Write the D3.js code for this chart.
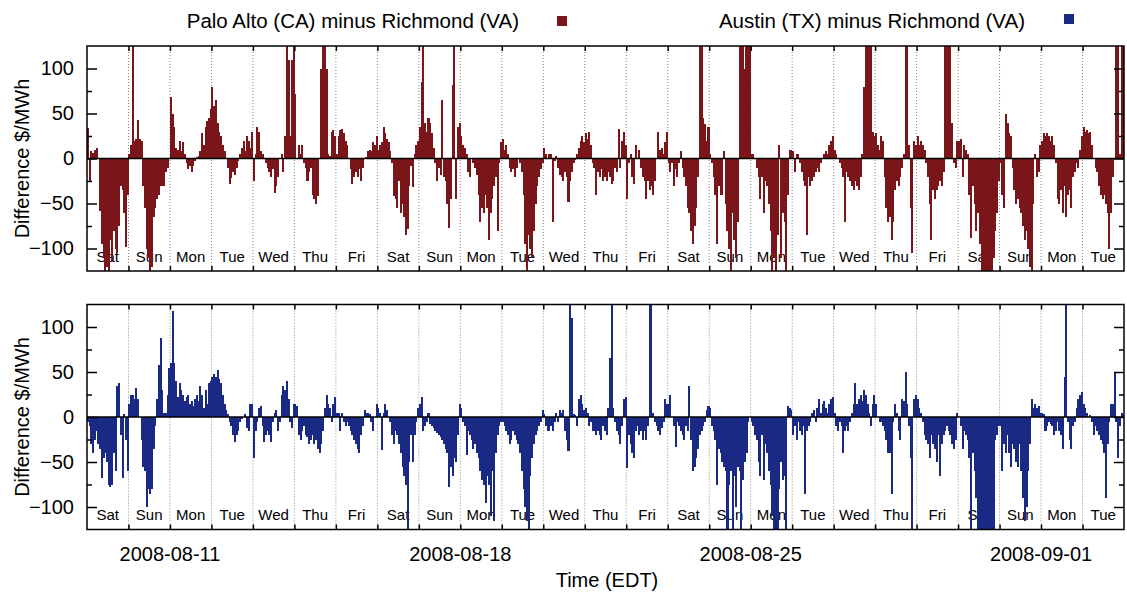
<!DOCTYPE html>
<html>
<head>
<meta charset="utf-8">
<script src="https://cdn.jsdelivr.net/npm/d3@7"></script>
<style>
  body { margin: 0; background: #fff; }
  text { font-family: "Liberation Sans", Arial, Helvetica, sans-serif; fill: #000; }
</style>
</head>
<body>
<svg id="chart" width="1127" height="592"></svg>
<script>
// Hourly locational price differences, $/MWh, one row of 24 hours per day (EDT),
// starting Saturday 2008-08-09 and ending Tuesday 2008-09-02.
const firstDay = "2008-08-09";
const lastDayExclusive = "2008-09-03";
const dateTicks = ["2008-08-11", "2008-08-18", "2008-08-25", "2008-09-01"];
const yTicks = [-100, -50, 0, 50, 100];
const yMinorTicks = [-75, -25, 25, 75];
const seriesNames = ["Palo Alto (CA) minus Richmond (VA)", "Austin (TX) minus Richmond (VA)"];

const paloAltoMinusRichmond = [
  [34, -25, 8, 6, 10, 12, 0, -58, -95, -110, -125, -120, -125, -90, -115, -80, -100, -105, -75, -30, -35, -60, -98, -40],
  [5, 15, 125, 20, 22, 43, 22, 20, -30, -55, -100, -110, -125, -120, -65, -55, -45, -40, -30, -30, -30, -15, -10, 0],
  [68, 50, 35, 12, 10, 20, 8, 18, 5, -5, -12, -8, -15, -8, -3, 2, 3, 8, 28, 15, 35, 42, 45, 55],
  [80, 58, 65, 40, 30, 25, 15, 8, 0, -10, -28, -22, -15, -18, -10, -3, 5, 12, 20, 8, 25, 20, 12, 30],
  [-25, 5, 35, 30, 8, 5, 0, -5, -10, -15, -20, -12, -38, -30, -20, 0, 5, -15, 25, 125, 110, 25, 110, 125],
  [72, 0, 15, 5, 15, -5, -10, -25, -15, -10, -40, -45, -50, -42, 0, 100, 125, 125, 100, 5, 3, 30, 32, 25],
  [5, 25, 32, 33, 28, 20, 15, 0, -12, -28, -20, -15, -20, -12, -25, -10, 0, 2, 8, 10, 8, 18, 15, 25],
  [10, 15, 18, 35, 28, 22, 18, 8, -5, -42, -45, -55, -25, -60, -50, -65, -85, -78, -30, -8, -32, 5, 15, 20],
  [35, 85, 125, 40, 30, 45, 40, 28, 12, -5, -25, -10, -18, 65, -20, -25, -50, -77, -45, 82, 125, -45, 35, 40],
  [25, 15, 12, 5, -15, -20, 0, -5, -10, -18, -40, -70, -55, -60, -40, -55, -90, -60, -45, -30, -20, -80, -5, 18],
  [22, 10, 15, 5, -10, -15, -12, -20, -10, 0, -5, -15, -40, -95, -125, -85, -100, -110, -80, -50, -30, -20, -12, -5],
  [12, 5, 0, 5, 5, -70, -3, 3, -10, -18, -20, -25, -15, -20, -48, -25, -15, -5, -2, 5, 12, 20, 25, 18],
  [28, 22, 30, 15, -5, -10, -40, -15, -20, -12, -25, -20, -25, -15, -20, -28, -25, -10, -15, 33, -10, 20, 30, 15],
  [-45, -5, 5, -20, -28, 15, 0, 10, -10, -20, -25, -45, -25, -35, -30, -40, -25, 0, 30, 10, 12, 5, 18, 30],
  [-5, -15, -5, -30, -12, -20, -5, 8, -10, -20, -30, -55, -60, -80, -95, -75, -55, -20, 125, 125, 45, 38, 20, 35],
  [5, -5, -20, -40, -95, -30, -40, -40, 8, -50, -80, -100, -125, -60, -90, -110, -70, 125, 125, 125, 100, 125, 125, 125],
  [5, 5, 0, -10, -20, -45, -20, -60, -25, -30, -50, -80, -125, -110, -125, -85, 15, -110, -60, -70, -125, -40, 10, 10],
  [8, -15, 5, 5, -5, -15, -25, -30, -85, -20, -30, -25, -20, -15, -10, -15, -5, 0, 5, 8, 5, 15, 20, 25],
  [10, 5, 0, -5, -10, -20, -70, -15, -20, -25, -30, -35, -25, -30, -35, -20, 5, 80, 125, 125, 125, 125, 30, 25],
  [28, 15, 10, 25, 20, -20, -55, -70, -65, -90, -70, -35, -25, -30, -20, -10, 5, 125, 125, 15, -55, -105, 20, 15],
  [25, 15, 20, 15, 10, -5, -20, -50, -90, -35, -45, -35, -30, -25, -30, -15, 125, 125, 125, 125, 40, -5, -10, 20],
  [20, 22, -20, 15, 10, 5, -40, -88, -30, -50, -80, -60, -95, -125, -125, -125, -125, -125, -125, -125, -110, -80, -60, -25],
  [-5, -40, -55, 50, 40, 28, 25, -10, -35, -50, -45, -55, -60, -75, -90, -80, -100, -120, -125, -50, 5, -20, -15, 15],
  [20, 28, 25, 28, 25, 20, 25, 15, -5, -45, -50, -35, -60, -30, -65, -40, -35, -55, -20, -15, -5, -10, 10, 25],
  [35, 30, 32, 28, 30, 15, 0, -10, -15, -30, -40, -45, -40, -50, -60, -100, -60, -20, 0, 125, 125, 5, 125, 125]
];

const austinMinusRichmond = [
  [-5, -10, -30, -40, -25, -15, -30, -35, -68, -45, -40, -50, -75, -78, -75, -40, -60, 35, 38, -20, -68, 3, -25, -60],
  [15, 25, 25, 20, 32, 20, 0, -25, -55, -60, -100, -80, -85, -80, -35, -10, 20, 58, 88, 30, 5, 5, 25, 55],
  [60, 118, 60, 40, 22, 38, 30, 25, 18, 22, 25, 15, 18, 12, 20, 25, 18, 35, 25, 10, 30, 15, 38, 40],
  [45, 48, 45, 52, 42, 38, 25, 15, 8, 3, -5, -10, -20, -28, -20, -15, -5, -2, 0, 3, -12, -15, 15, 15],
  [-45, -15, -5, 10, 12, -10, -28, -20, -15, -20, -28, -5, 5, 8, -15, -5, 25, 35, 30, 40, 20, -5, -12, 15],
  [15, 12, -20, -25, -15, -10, -20, -22, -30, -25, -20, -30, -25, -35, -40, -30, -15, 10, 25, 15, 10, -5, 15, 22],
  [5, 5, -15, 5, -5, -10, -5, -10, -15, -20, -25, -30, -35, -40, -20, -10, 8, 5, 5, 3, -5, -15, 0, 15],
  [10, 5, -37, 5, 15, 8, 0, -5, -20, -30, -15, -20, -30, -40, -55, -65, -75, -125, -50, -20, -50, -20, -5, 10],
  [15, 22, -15, -10, -5, 5, -8, -10, -12, -15, -18, -20, -22, -25, -30, -35, -40, -78, -55, -65, -45, -50, -20, 15],
  [10, -5, -10, -42, -15, -20, -25, -35, -30, -40, -45, -60, -70, -75, -95, -65, -75, -110, -60, -115, -40, -20, -10, -5],
  [-5, -10, -15, -20, -30, -25, -15, -20, -25, -30, -40, -60, -80, -100, -115, -125, -65, -45, -30, -20, -15, -10, -5, 8],
  [3, -10, -15, -15, -10, -15, -5, 5, -5, 8, 5, 8, -15, -25, -38, 125, 110, 3, 2, -10, 20, 25, 15, 8],
  [10, 5, -10, -5, -15, -15, -20, -15, -20, -25, -10, -15, -20, 10, 66, 125, 10, -5, -15, -20, -30, -10, 20, 22],
  [-57, -20, -30, -40, -45, -15, -10, -20, -15, -25, -15, -25, -10, 125, 125, 5, -5, -10, -15, -20, -12, -5, 20, 15],
  [15, 25, 0, -10, -33, -5, -10, -15, -20, -25, -10, -15, 35, -25, -60, -55, -45, -35, -20, -15, -10, -5, 8, 12],
  [10, -10, -15, -25, -75, -35, -40, -50, -55, -60, -125, -75, -60, -125, -65, -100, -55, -60, -125, -70, -50, -40, -5, 0],
  [-5, -10, -20, -25, -50, -65, -20, -70, -30, -40, -60, -75, -110, -125, -125, -125, -80, -50, -70, -65, -125, 12, 10, 8],
  [-20, -10, -25, -5, -15, -20, -10, -85, -15, -10, -5, 5, 8, -5, 10, 20, 5, 15, 18, 10, 5, 15, 20, 22],
  [5, -10, -15, -5, -10, -40, -15, -10, -15, -5, 5, 15, 38, 15, 20, 25, 18, 30, 25, 15, 5, -10, 15, 25],
  [15, 0, -5, -5, -10, -15, -25, -40, -40, -85, -5, 15, 5, -15, -25, 20, 18, 50, 15, -10, -45, -125, 20, 25],
  [20, 10, 5, -5, -20, -25, -30, -45, -20, -30, -35, -50, -20, -65, -30, -20, -15, -10, -15, -20, -30, -35, -25, 5],
  [0, -10, -35, -15, -20, -25, -45, -125, -40, -60, -90, -125, -125, -125, -125, -125, -125, -125, -125, -125, -125, -25, -20, -10],
  [-10, -60, -30, -40, -20, -40, -55, -30, -35, -50, -55, -30, -60, -90, -115, -100, -60, -30, 20, 10, 15, 10, 12, 5],
  [5, 3, -15, -10, -5, -8, -10, -20, -15, -5, -15, -20, -35, 45, 125, -5, -25, -35, -10, -5, 10, 20, 25, 28],
  [15, 10, 5, 0, 2, -5, -20, -10, -15, -20, -25, -30, -40, -90, -30, -5, 15, 15, 50, -5, -45, -10, 5, 2]
];

// ---------------------------------------------------------------------------
const parseDay = d3.utcParse("%Y-%m-%d");
const t0 = parseDay(firstDay);
const t1 = parseDay(lastDayExclusive);
const days = d3.utcDay.range(t0, t1);
const dayName = d3.utcFormat("%a");

const svg = d3.select("#chart");
const plotLeft = 87, plotRight = 1124;

const x = d3.scaleUtc().domain([t0, t1]).range([plotLeft, plotRight]);

const panels = [
  { name: seriesNames[0], rows: paloAltoMinusRichmond, color: "#7a1619",
    top: 46, bottom: 271, legendTextX: 519, legendBox: [557, 16] },
  { name: seriesNames[1], rows: austinMinusRichmond, color: "#1a2984",
    top: 304.5, bottom: 529.5, legendTextX: 1025, legendBox: [1064, 14] }
];

// legend row across the top
panels.forEach(p => {
  svg.append("text")
    .attr("x", p.legendTextX).attr("y", 27.5)
    .attr("text-anchor", "end")
    .style("font-size", "20.5px")
    .text(p.name);
  svg.append("rect")
    .attr("x", p.legendBox[0]).attr("y", p.legendBox[1])
    .attr("width", 10).attr("height", 10)
    .attr("fill", p.color);
});

panels.forEach((p, pi) => {
  const y = d3.scaleLinear().domain([-125, 125]).range([p.bottom, p.top]).clamp(true);
  const g = svg.append("g");

  // dotted day separators at each midnight
  g.append("g").selectAll("line")
    .data(days.slice(1))
    .join("line")
    .attr("x1", d => x(d)).attr("x2", d => x(d))
    .attr("y1", p.top).attr("y2", p.bottom)
    .attr("stroke", "#8a8a8a")
    .attr("stroke-width", 1)
    .attr("stroke-dasharray", "1,2");

  // weekday names inside the plot, under the bars
  g.append("g").selectAll("text")
    .data(days)
    .join("text")
    .attr("x", d => x(d3.utcHour.offset(d, 12)))
    .attr("y", p.bottom - 9.5)
    .attr("text-anchor", "middle")
    .style("font-size", "15px")
    .text(d => dayName(d));

  // one impulse per hour
  const hourly = [];
  p.rows.forEach((row, di) => {
    row.forEach((v, h) => hourly.push({ t: d3.utcHour.offset(days[di], h), v }));
  });
  const hourW = x(d3.utcHour.offset(t0, 1)) - x(t0);
  g.append("g")
    .attr("shape-rendering", "crispEdges")
    .selectAll("rect")
    .data(hourly)
    .join("rect")
    .attr("x", d => x(d.t))
    .attr("width", hourW + 0.3)
    .attr("y", d => Math.min(y(d.v), y(0)))
    .attr("height", d => Math.abs(y(d.v) - y(0)))
    .attr("fill", p.color);

  // zero line
  g.append("line")
    .attr("x1", plotLeft).attr("x2", plotRight)
    .attr("y1", y(0)).attr("y2", y(0))
    .attr("stroke", "#000").attr("stroke-width", 1.5);

  // y axes: labelled major ticks on the left, unlabelled on the right, minor ticks both sides
  const styleAxis = sel => {
    sel.select(".domain").remove();
    sel.selectAll(".tick line").attr("stroke", "#000").attr("stroke-width", 1.5);
    sel.selectAll(".tick text").style("font-size", "20px").attr("fill", "#000");
  };
  g.append("g").attr("transform", `translate(${plotLeft},0)`)
    .call(d3.axisLeft(y).tickValues(yTicks).tickSize(-10).tickPadding(13))
    .call(styleAxis);
  g.append("g").attr("transform", `translate(${plotLeft},0)`)
    .call(d3.axisLeft(y).tickValues(yMinorTicks).tickSize(-5).tickFormat(""))
    .call(styleAxis);
  g.append("g").attr("transform", `translate(${plotRight},0)`)
    .call(d3.axisRight(y).tickValues(yTicks).tickSize(-10).tickFormat(""))
    .call(styleAxis);
  g.append("g").attr("transform", `translate(${plotRight},0)`)
    .call(d3.axisRight(y).tickValues(yMinorTicks).tickSize(-5).tickFormat(""))
    .call(styleAxis);

  // x ticks at every midnight, pointing inward from top and bottom edges
  g.append("g").attr("transform", `translate(0,${p.top})`)
    .call(d3.axisTop(x).tickValues(days.slice(1)).tickSize(-5).tickFormat(""))
    .call(styleAxis);
  g.append("g").attr("transform", `translate(0,${p.bottom})`)
    .call(d3.axisBottom(x).tickValues(days.slice(1)).tickSize(-5).tickFormat(""))
    .call(styleAxis);

  // frame
  g.append("rect")
    .attr("x", plotLeft).attr("y", p.top)
    .attr("width", plotRight - plotLeft).attr("height", p.bottom - p.top)
    .attr("fill", "none").attr("stroke", "#000").attr("stroke-width", 1.5);

  // y axis title
  const cy = (p.top + p.bottom) / 2;
  svg.append("text")
    .attr("transform", `translate(22,${cy}) rotate(-90)`)
    .attr("dy", "0.35em")
    .attr("text-anchor", "middle")
    .style("font-size", "20px")
    .text("Difference $/MWh");

  // weekly date labels under the lower panel
  if (pi === panels.length - 1) {
    svg.append("g").selectAll("text")
      .data(dateTicks)
      .join("text")
      .attr("x", d => x(parseDay(d)))
      .attr("y", 561)
      .attr("text-anchor", "middle")
      .style("font-size", "20px")
      .text(d => d);
    svg.append("text")
      .attr("x", 607).attr("y", 587)
      .attr("text-anchor", "middle")
      .style("font-size", "20px")
      .text("Time (EDT)");
  }
});
</script>
</body>
</html>
